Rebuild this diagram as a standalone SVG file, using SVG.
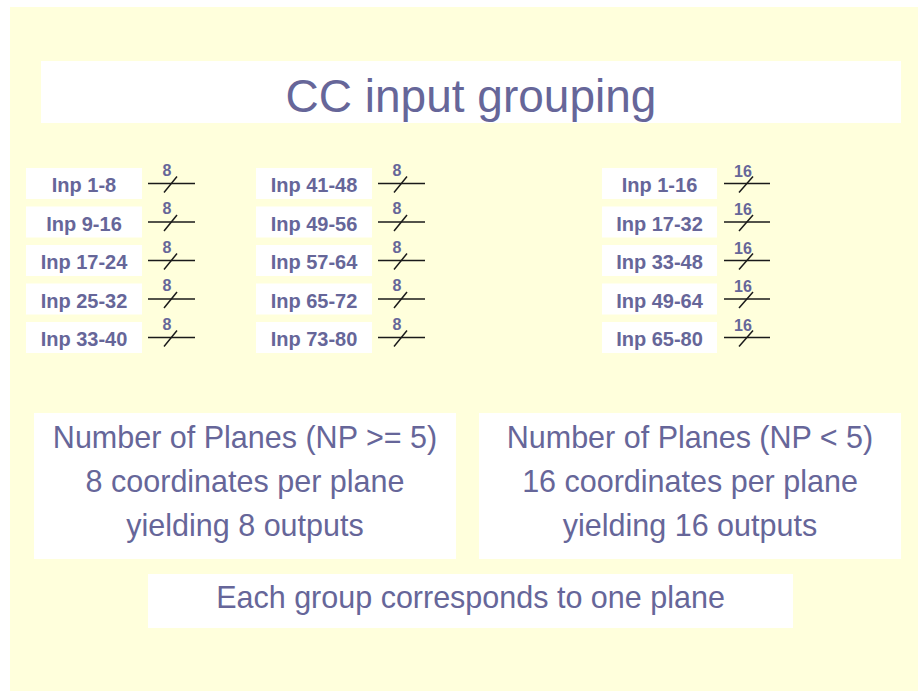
<svg xmlns="http://www.w3.org/2000/svg" width="918" height="691" viewBox="0 0 918 691">
  <style>
    .box { fill: #FFFFFF; }
    .inp { font-family: "Liberation Sans", Arial, sans-serif; font-weight: bold; font-size: 20px; fill: #666699; text-anchor: middle; }
    .cnt { font-family: "Liberation Sans", Arial, sans-serif; font-weight: bold; font-size: 16px; fill: #666699; text-anchor: middle; }
    .big { font-family: "Liberation Sans", Arial, sans-serif; font-size: 30.5px; fill: #666699; text-anchor: middle; }
    .title { font-family: "Liberation Sans", Arial, sans-serif; font-size: 46px; fill: #666699; text-anchor: middle; }
    .bus { stroke: #1a1a1a; stroke-width: 1.5; fill: none; }
  </style>
  <defs>
    <g id="bus8">
      <line class="bus" x1="0" y1="0" x2="47" y2="0"/>
      <line class="bus" x1="16" y1="9" x2="29" y2="-7"/>
      <text class="cnt" x="19" y="-8">8</text>
    </g>
    <g id="bus16">
      <line class="bus" x1="0" y1="0" x2="46" y2="0"/>
      <line class="bus" x1="15" y1="9" x2="29" y2="-7"/>
      <text class="cnt" x="19" y="-7">16</text>
    </g>
  </defs>
  <rect x="0" y="0" width="918" height="691" fill="#FFFFFF"/>
  <rect x="10" y="7" width="908" height="684" fill="#FFFFDC"/>

  <g id="title">
    <rect class="box" x="41" y="61" width="860" height="62"/>
    <text class="title" x="471" y="112">CC input grouping</text>
  </g>

  <g id="col1">
    <g id="inp1-8"><rect class="box" x="26" y="168" width="116" height="31"/><text class="inp" x="84" y="192">Inp 1-8</text></g>
    <g id="inp9-16"><rect class="box" x="26" y="206.5" width="116" height="31"/><text class="inp" x="84" y="230.5">Inp 9-16</text></g>
    <g id="inp17-24"><rect class="box" x="26" y="245" width="116" height="31"/><text class="inp" x="84" y="269">Inp 17-24</text></g>
    <g id="inp25-32"><rect class="box" x="26" y="283.5" width="116" height="31"/><text class="inp" x="84" y="307.5">Inp 25-32</text></g>
    <g id="inp33-40"><rect class="box" x="26" y="322" width="116" height="31"/><text class="inp" x="84" y="346">Inp 33-40</text></g>
  </g>
  <g id="col2">
    <g id="inp41-48"><rect class="box" x="256" y="168" width="116" height="31"/><text class="inp" x="314" y="192">Inp 41-48</text></g>
    <g id="inp49-56"><rect class="box" x="256" y="206.5" width="116" height="31"/><text class="inp" x="314" y="230.5">Inp 49-56</text></g>
    <g id="inp57-64"><rect class="box" x="256" y="245" width="116" height="31"/><text class="inp" x="314" y="269">Inp 57-64</text></g>
    <g id="inp65-72"><rect class="box" x="256" y="283.5" width="116" height="31"/><text class="inp" x="314" y="307.5">Inp 65-72</text></g>
    <g id="inp73-80"><rect class="box" x="256" y="322" width="116" height="31"/><text class="inp" x="314" y="346">Inp 73-80</text></g>
  </g>
  <g id="col3">
    <g id="inp1-16"><rect class="box" x="602" y="168" width="115" height="31"/><text class="inp" x="659.5" y="192">Inp 1-16</text></g>
    <g id="inp17-32"><rect class="box" x="602" y="206.5" width="115" height="31"/><text class="inp" x="659.5" y="230.5">Inp 17-32</text></g>
    <g id="inp33-48"><rect class="box" x="602" y="245" width="115" height="31"/><text class="inp" x="659.5" y="269">Inp 33-48</text></g>
    <g id="inp49-64"><rect class="box" x="602" y="283.5" width="115" height="31"/><text class="inp" x="659.5" y="307.5">Inp 49-64</text></g>
    <g id="inp65-80"><rect class="box" x="602" y="322" width="115" height="31"/><text class="inp" x="659.5" y="346">Inp 65-80</text></g>
  </g>

  <g id="connectors">
    <use href="#bus8" x="148" y="183.5"/>
    <use href="#bus8" x="148" y="222"/>
    <use href="#bus8" x="148" y="260.5"/>
    <use href="#bus8" x="148" y="299"/>
    <use href="#bus8" x="148" y="337.5"/>
    <use href="#bus8" x="378" y="183.5"/>
    <use href="#bus8" x="378" y="222"/>
    <use href="#bus8" x="378" y="260.5"/>
    <use href="#bus8" x="378" y="299"/>
    <use href="#bus8" x="378" y="337.5"/>
    <use href="#bus16" x="724" y="183.5"/>
    <use href="#bus16" x="724" y="222"/>
    <use href="#bus16" x="724" y="260.5"/>
    <use href="#bus16" x="724" y="299"/>
    <use href="#bus16" x="724" y="337.5"/>
  </g>

  <g id="np-ge5">
    <rect class="box" x="34" y="413" width="422" height="146"/>
    <text class="big" x="245" y="448">Number of Planes (NP &gt;= 5)</text>
    <text class="big" x="245" y="492">8 coordinates per plane</text>
    <text class="big" x="245" y="536">yielding 8 outputs</text>
  </g>
  <g id="np-lt5">
    <rect class="box" x="479" y="413" width="422" height="146"/>
    <text class="big" x="690" y="448">Number of Planes (NP &lt; 5)</text>
    <text class="big" x="690" y="492">16 coordinates per plane</text>
    <text class="big" x="690" y="536">yielding 16 outputs</text>
  </g>
  <g id="note">
    <rect class="box" x="148" y="574" width="645" height="54"/>
    <text class="big" x="470.5" y="608">Each group corresponds to one plane</text>
  </g>
</svg>
